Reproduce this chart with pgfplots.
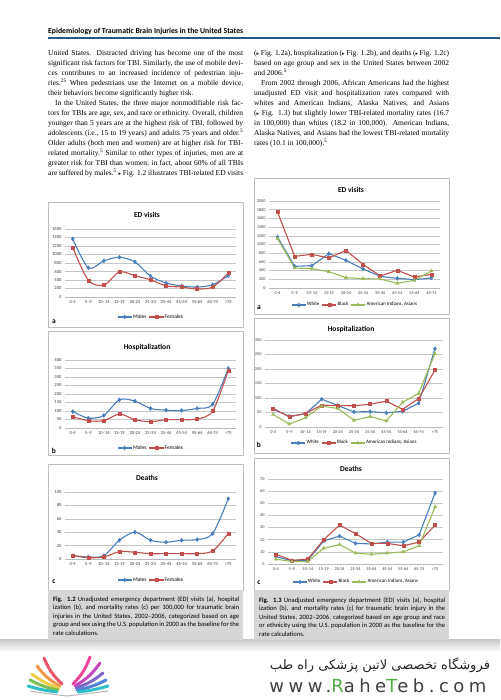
\documentclass[border=0pt]{standalone}
\usepackage{fontspec}
\setmainfont{Liberation Serif}
\newfontfamily\carl{Carlito}
\newfontfamily\dv{DejaVu Sans}
\newfontfamily\arabicfont[Script=Arabic]{DejaVu Sans}
\newfontfamily\webfont[LetterSpace=25]{DejaVu Sans}
\TeXXeTstate=1
\usepackage{graphicx}
\usepackage{pgfplots}
\pgfplotsset{compat=1.18}

\definecolor{xb}{RGB}{74,126,187}
\definecolor{xr}{RGB}{192,80,77}
\definecolor{xg}{RGB}{155,187,89}
\definecolor{hdr}{RGB}{38,86,140}
\definecolor{capg}{RGB}{214,214,214}
\definecolor{boxg}{RGB}{190,190,190}
\definecolor{webg}{RGB}{80,170,70}

\newdimen\lw
\newcommand\jl[1]{\hbox to \lw{#1}}
\newcommand\lastl[1]{\hbox to \lw{#1\hfil}}
\newcommand\tri{{\dv\fontsize{5}{5}\selectfont ▸}}

\pgfplotsset{
  xlchart/.style={
    scale only axis, ymin=0, xtick={0,...,10},
    axis lines*=left,
    y axis line style={draw=none},
    x axis line style={draw=gray!55, line width=0.5pt},
    tick style={draw=none},
    ymajorgrids, grid style={draw=gray!45, line width=0.5pt},
    tick label style={font=\carl\fontsize{4.6}{5}\selectfont, text=black!75},
    /pgf/number format/assume math mode=true,
    /pgf/number format/1000 sep={},
    legend style={draw=none, fill=none, font=\carl\fontsize{5.5}{6}\selectfont,
      legend columns=-1, at={(0.5,0)}, anchor=center,
      /tikz/every even column/.append style={column sep=1.5pt},
      nodes={inner sep=0.8pt}},
    legend image code/.code={\draw[mark repeat=2, mark phase=2]
      plot coordinates {(0pt,0pt)(7pt,0pt)(14pt,0pt)};},
    every axis plot/.append style={line width=1.1pt},
    clip=false,
  },
  agesL/.style={xticklabels={0-4,5–9,10–14,15-19,20-24,25-34,35-44,45-54,55-64,65-74,>75}},
  agesR/.style={xticklabels={0-4,5–9,10–14,15-19,20-24,25-34,35-44,45-54,55-64,65-74}},
  mb/.style={xb, mark=diamond*, mark size=2pt, mark options={solid, line width=0.4pt}},
  mr/.style={xr, mark=square*, mark size=1.5pt, mark options={solid, line width=0.4pt}},
  mg/.style={xg, mark=triangle*, mark size=1.9pt, mark options={solid, line width=0.4pt}},
}

\begin{document}
\begin{tikzpicture}[x=1pt,y=1pt]
\path[use as bounding box] (0,0) rectangle (500,700);
\fill[white] (0,0) rectangle (500,700);

% header
\node[anchor=base west, inner sep=0] at (48,666.5)
  {\resizebox{195pt}{!}{\carl\bfseries Epidemiology of Traumatic Brain Injuries in the United States}};
\fill[hdr] (48,661) rectangle (500,663);

% body text, left column
\node[anchor=north west, inner sep=0] at (48,650) {\vbox{\lw=195pt
  \fontsize{7.5}{10}\selectfont\baselineskip=10pt
  \jl{United States. Distracted driving has become one of the most}
  \jl{significant risk factors for TBI. Similarly, the use of mobile devi-}
  \jl{ces contributes to an increased incidence of pedestrian inju-}
  \jl{ries.\textsuperscript{25} When pedestrians use the Internet on a mobile device,}
  \lastl{their behaviors become significantly higher risk.}
  \jl{\hskip7pt In the United States, the three major nonmodifiable risk fac-}
  \jl{tors for TBIs are age, sex, and race or ethnicity. Overall, children}
  \jl{younger than 5 years are at the highest risk of TBI, followed by}
  \jl{adolescents (i.e., 15 to 19 years) and adults 75 years and older.\textsuperscript{5}}
  \jl{Older adults (both men and women) are at higher risk for TBI-}
  \jl{related mortality.\textsuperscript{5} Similar to other types of injuries, men are at}
  \jl{greater risk for TBI than women; in fact, about 60\% of all TBIs}
  \jl{are suffered by males.\textsuperscript{5} \tri\ Fig. 1.2 illustrates TBI-related ED visits}
}};

% body text, right column
\node[anchor=north west, inner sep=0] at (254,650) {\vbox{\lw=195pt
  \fontsize{7.5}{10}\selectfont\baselineskip=10pt
  \jl{(\tri\ Fig. 1.2a), hospitalization (\tri\ Fig. 1.2b), and deaths (\tri\ Fig. 1.2c)}
  \jl{based on age group and sex in the United States between 2002}
  \lastl{and 2006.\textsuperscript{5}}
  \jl{\hskip7pt From 2002 through 2006, African Americans had the highest}
  \jl{unadjusted ED visit and hospitalization rates compared with}
  \jl{whites and American Indians, Alaska Natives, and Asians}
  \jl{(\tri\ Fig. 1.3) but slightly lower TBI-related mortality rates (16.7}
  \jl{in 100,000) than whites (18.2 in 100,000). American Indians,}
  \jl{Alaska Natives, and Asians had the lowest TBI-related mortality}
  \lastl{rates (10.1 in 100,000).\textsuperscript{5}}
}};

% chart frames
\draw[boxg, line width=0.6pt] (48,498) rectangle (243,373);
\draw[boxg, line width=0.6pt] (48,369) rectangle (243,245);
\draw[boxg, line width=0.6pt] (48,236) rectangle (243,110);
\draw[boxg, line width=0.6pt] (254,522) rectangle (449,386);
\draw[boxg, line width=0.6pt] (254,382) rectangle (449,247);
\draw[boxg, line width=0.6pt] (254,242) rectangle (449,110);

% chart titles and panel letters
\begin{scope}[every node/.style={font=\carl\bfseries\fontsize{7.5}{8}\selectfont}]
\node at (147,485) {ED visits};
\node at (147,353) {Hospitalization};
\node at (147,222) {Deaths};
\node at (351,510) {ED visits};
\node at (351,371) {Hospitalization};
\node at (351,231) {Deaths};
\node at (54,378) {a};
\node at (54,249) {b};
\node at (54,118) {c};
\node at (259,392) {a};
\node at (259,255) {b};
\node at (259,117) {c};
\end{scope}

% Fig. 1.2a
\begin{axis}[xlchart, at={(65pt,403pt)}, width=171pt, height=68pt,
  xmin=-0.5, xmax=10.5, ymax=1600, ytick={0,200,...,1600}, agesL,
  legend style={yshift=-20pt}]
\addplot[mb, smooth] coordinates {(0,1366)(1,687)(2,850)(3,935)(4,825)(5,492)(6,328)(7,262)(8,234)(9,289)(10,500)};
\addlegendentry{Males}
\addplot[mr, smooth] coordinates {(0,1160)(1,395)(2,280)(3,590)(4,500)(5,406)(6,262)(7,234)(8,187)(9,234)(10,560)};
\addlegendentry{Females}
\end{axis}

% Fig. 1.2b
\begin{axis}[xlchart, at={(65pt,272pt)}, width=171pt, height=68pt,
  xmin=-0.5, xmax=10.5, ymax=400, ytick={0,50,...,400}, agesL,
  legend style={yshift=-20pt}]
\addplot[mb, smooth] coordinates {(0,97)(1,58)(2,74)(3,166)(4,158)(5,115)(6,105)(7,103)(8,115)(9,140)(10,351)};
\addlegendentry{Males}
\addplot[mr, smooth] coordinates {(0,66)(1,43)(2,43)(3,82)(4,49)(5,37)(6,49)(7,49)(8,53)(9,100)(10,338)};
\addlegendentry{Females}
\end{axis}

% Fig. 1.2c
\begin{axis}[xlchart, at={(65pt,141pt)}, width=171pt, height=67pt,
  xmin=-0.5, xmax=10.5, ymax=100, ytick={0,20,...,100}, agesL,
  legend style={yshift=-21pt}]
\addplot[mb, smooth] coordinates {(0,5)(1,3)(2,5)(3,28)(4,40)(5,28)(6,25)(7,28)(8,29)(9,38)(10,90)};
\addlegendentry{Males}
\addplot[mr, smooth] coordinates {(0,5)(1,2)(2,3)(3,11)(4,10)(5,8)(6,8)(7,8)(8,8)(9,12)(10,38)};
\addlegendentry{Females}
\end{axis}

% Fig. 1.3a
\begin{axis}[xlchart, at={(269pt,412pt)}, width=171pt, height=87pt,
  xmin=-0.5, xmax=9.5, xtick={0,...,9}, ymax=2000, ytick={0,200,...,2000}, agesR,
  tick label style={font=\carl\fontsize{4.3}{5}\selectfont},
  legend style={yshift=-17pt, font=\carl\fontsize{5}{5}\selectfont}]
\addplot[mb] coordinates {(0,1172)(1,498)(2,513)(3,789)(4,636)(5,437)(6,268)(7,222)(8,192)(9,230)};
\addlegendentry{White}
\addplot[mr] coordinates {(0,1747)(1,728)(2,774)(3,690)(4,866)(5,544)(6,276)(7,406)(8,253)(9,314)};
\addlegendentry{Black}
\addplot[mg] coordinates {(0,1134)(1,460)(2,444)(3,375)(4,238)(5,215)(6,207)(7,107)(8,176)(9,391)};
\addlegendentry{American Indians, Asians}
\end{axis}

% Fig. 1.3b
\begin{axis}[xlchart, at={(265pt,273pt)}, width=178pt, height=87pt,
  xmin=-0.5, xmax=10.5, ymax=300, ytick={0,50,...,300}, agesL,
  tick label style={font=\carl\fontsize{4.3}{5}\selectfont},
  legend style={yshift=-16pt, font=\carl\fontsize{5}{5}\selectfont}]
\addplot[mb] coordinates {(0,61)(1,37)(2,45)(3,96)(4,74)(5,52)(6,53)(7,49)(8,54)(9,82)(10,270)};
\addlegendentry{White}
\addplot[mr] coordinates {(0,64)(1,35)(2,47)(3,75)(4,74)(5,73)(6,79)(7,89)(8,61)(9,98)(10,196)};
\addlegendentry{Black}
\addplot[mg] coordinates {(0,43)(1,10)(2,32)(3,72)(4,64)(5,23)(6,36)(7,21)(8,85)(9,116)(10,253)};
\addlegendentry{American Indians, Asians}
\end{axis}

% Fig. 1.3c
\begin{axis}[xlchart, at={(268pt,136pt)}, width=175pt, height=85pt,
  xmin=-0.5, xmax=10.5, ymax=70, ytick={0,10,...,70}, agesL,
  tick label style={font=\carl\fontsize{4.3}{5}\selectfont},
  legend style={yshift=-18pt, font=\carl\fontsize{5}{5}\selectfont}]
\addplot[mb] coordinates {(0,6)(1,2.8)(2,3)(3,19)(4,23)(5,17)(6,16.5)(7,18)(8,18)(9,24)(10,58.5)};
\addlegendentry{White}
\addplot[mr] coordinates {(0,8)(1,3)(2,4)(3,20)(4,32)(5,25)(6,17)(7,17)(8,15)(9,18)(10,32)};
\addlegendentry{Black}
\addplot[mg] coordinates {(0,4)(1,2)(2,2)(3,13)(4,16)(5,9)(6,8)(7,9)(8,10)(9,15)(10,47)};
\addlegendentry{American Indians, Asians}
\end{axis}

% shadow under the figures
\shade[top color=gray!40, bottom color=white] (0,60) rectangle (500,48);

% captions
\fill[capg] (48,110) rectangle (243,60);
\fill[capg] (254,110) rectangle (449,60);
\node[anchor=north west, inner sep=0] at (53,103.5) {\vbox{\lw=186pt
  \carl\fontsize{6.6}{8.4}\selectfont\baselineskip=8.4pt
  \jl{\textbf{Fig. 1.2} Unadjusted emergency department (ED) visits (a), hospital}
  \jl{ization (b), and mortality rates (c) per 100,000 for traumatic brain}
  \jl{injuries in the United States, 2002–2006, categorized based on age}
  \jl{group and sex using the U.S. population in 2000 as the baseline for the}
  \lastl{rate calculations.}
}};
\node[anchor=north west, inner sep=0] at (259,102.5) {\vbox{\lw=186pt
  \carl\fontsize{6.6}{8.4}\selectfont\baselineskip=8.4pt
  \jl{\textbf{Fig. 1.3} Unadjusted emergency department (ED) visits (a), hospital}
  \jl{ization (b), and mortality rates (c) for traumatic brain injury in the}
  \jl{United States, 2002–2006, categorized based on age group and race}
  \jl{or ethnicity using the U.S. population in 2000 as the baseline for the}
  \lastl{rate calculations.}
}};

% footer logo
\begin{scope}[line width=3pt, line cap=round]
\draw[color={rgb,255:red,232;green,84;blue,104}] (62,16) to[bend left=12] (44,42);
\draw[color={rgb,255:red,245;green,150;blue,70}] (60,14) to[bend left=12] (37,34);
\draw[color={rgb,255:red,236;green,205;blue,70}] (59,12) to[bend left=10] (32,26);
\draw[color={rgb,255:red,120;green,192;blue,84}] (58,10) to[bend left=8] (30,20);
\draw[color={rgb,255:red,45;green,190;blue,200}] (57,8) to[bend left=5] (28,14);
\draw[color={rgb,255:red,236;green,70;blue,150}] (73,16) to[bend right=12] (90,43);
\draw[color={rgb,255:red,196;green,70;blue,190}] (75,14) to[bend right=12] (100,37);
\draw[color={rgb,255:red,130;green,100;blue,205}] (76,12) to[bend right=10] (103,27);
\draw[color={rgb,255:red,80;green,130;blue,215}] (77,10) to[bend right=8] (106,20);
\draw[color={rgb,255:red,45;green,190;blue,200}] (78,8) to[bend right=5] (108,14);
\end{scope}
\draw[gray!55, line width=1pt] (30,9) .. controls (50,6) .. (67,4) .. controls (85,6) .. (108,9);

% footer text
\node[anchor=center, inner sep=0] at (380,35)
  {\resizebox{220pt}{!}{\arabicfont\color{black!85}\beginR فروشگاه تخصصی لاتین پزشکی  راه طب\endR}};
\node[anchor=center, inner sep=0] at (378,14)
  {\resizebox{217pt}{!}{\webfont\color{black!75}www.\textcolor{webg}{R}ahe\textcolor{webg}{T}eb.com}};
\end{tikzpicture}
\end{document}
